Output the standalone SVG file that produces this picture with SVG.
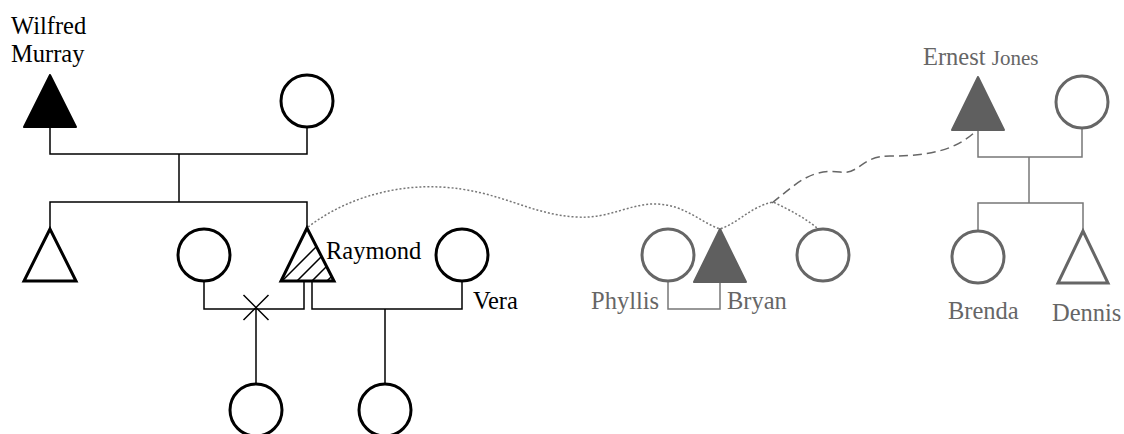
<svg xmlns="http://www.w3.org/2000/svg" width="1124" height="434" viewBox="0 0 1124 434">
<style>
.bk{fill:none;stroke:#000;stroke-width:3}
.bkf{fill:#000;stroke:#000;stroke-width:2;stroke-linejoin:round}
.gr{fill:none;stroke:#666;stroke-width:3}
.grf{fill:#5f5f5f;stroke:#5f5f5f;stroke-width:2;stroke-linejoin:round}
.ln{fill:none;stroke:#000;stroke-width:1.5}
.gln{fill:none;stroke:#777;stroke-width:1.5}
.t{font-family:"Liberation Serif","Times New Roman",serif;font-size:24.5px;fill:#000}
.gt{font-family:"Liberation Serif","Times New Roman",serif;font-size:24.5px;fill:#666}
</style>
<defs>
<clipPath id="triClip"><polygon points="307,230 282,280 333,280"/></clipPath>
</defs>
<rect width="1124" height="434" fill="#fff"/>
<g id="connectors">
<path class="ln" d="M50,127 V154 H307 V127"/>
<path class="ln" d="M179,154 V202"/>
<path class="ln" d="M50,229 V202 H307 V228"/>
<path class="ln" d="M204,281 V309 H304 V281"/>
<path class="ln" d="M312,281 V309 H462 V281"/>
<path class="ln" stroke-width="1.2" d="M243.5,295 L268.5,320 M268.5,295 L243.5,320"/>
<path class="ln" d="M256,309 V384"/>
<path class="ln" d="M385,309 V384"/>
<path class="gln" d="M668,281 V309 H720 V282"/>
<path class="gln" d="M978,130 V157 H1082 V128"/>
<path class="gln" d="M1029,157 V203"/>
<path class="gln" d="M978,231 V203 H1083 V230"/>
<path fill="none" stroke="#777" stroke-width="1.5" stroke-dasharray="2,2" d="M308,227 C350,195 400,185 440,187 C500,190 530,215 577,217 C610,219 630,203 657,204 C685,205 700,222 720,229 C740,222 750,207 773,202 C790,210 805,218 817,228"/>
<path fill="none" stroke="#666" stroke-width="1.5" stroke-dasharray="9,5" d="M772,203 C795,185 810,168 840,172 C860,175 860,156 890,156 C930,156 955,150 975,132"/>
</g>
<g id="wilfred">
<polygon class="bkf" points="50,75 24,127 76,127"/>
<text class="t" x="11" y="34">Wilfred</text>
<text class="t" x="11" y="62">Murray</text>
</g>
<g id="wilfred-wife"><circle class="bk" cx="307" cy="101" r="26"/></g>
<g id="son1"><polygon class="bk" points="50,229 24,281 76,281"/></g>
<g id="daughter1"><circle class="bk" cx="204" cy="255" r="26"/></g>
<g id="raymond">
<g clip-path="url(#triClip)" stroke="#000" stroke-width="1.5">
<line x1="263" y1="300" x2="333" y2="230"/>
<line x1="278" y1="300" x2="348" y2="230"/>
<line x1="293" y1="300" x2="363" y2="230"/>
<line x1="308" y1="300" x2="378" y2="230"/>
</g>
<polygon class="bk" points="307,228 281,281 334,281" stroke-linejoin="miter"/>
<text class="t" x="326" y="259">Raymond</text>
</g>
<g id="vera">
<circle class="bk" cx="462" cy="255" r="26"/>
<text class="t" x="473" y="309">Vera</text>
</g>
<g id="child1"><circle class="bk" cx="256" cy="410" r="26"/></g>
<g id="child2"><circle class="bk" cx="385" cy="410" r="26"/></g>
<g id="phyllis">
<circle class="gr" cx="668" cy="255" r="26"/>
<text class="gt" x="591" y="309">Phyllis</text>
</g>
<g id="bryan">
<polygon class="grf" points="720,229 694,282 746,282"/>
<text class="gt" x="727" y="309">Bryan</text>
</g>
<g id="bryan-sibling"><circle class="gr" cx="823" cy="255" r="26"/></g>
<g id="ernest">
<polygon class="grf" points="978,77 952,130 1004,130"/>
<text class="gt" x="923" y="65" font-size="24">Ernest <tspan font-size="21">Jones</tspan></text>
</g>
<g id="ernest-wife"><circle class="gr" cx="1082" cy="102" r="26"/></g>
<g id="brenda">
<circle class="gr" cx="978" cy="257" r="26"/>
<text class="gt" x="948" y="319">Brenda</text>
</g>
<g id="dennis">
<polygon class="gr" points="1083,231 1058,283 1108,283"/>
<text class="gt" x="1052" y="321">Dennis</text>
</g>
</svg>
